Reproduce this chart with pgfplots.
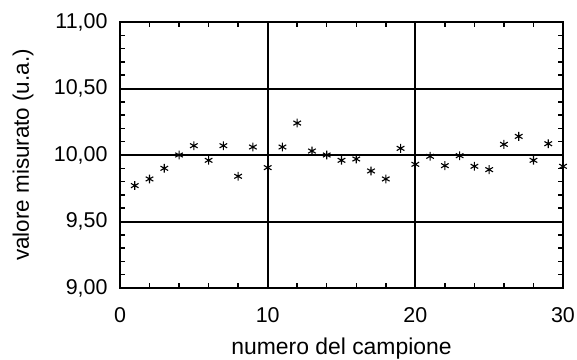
\documentclass[border=0pt]{standalone}
\usepackage{fontspec}
\setmainfont{Liberation Sans}
\usepackage{pgfplots}
\pgfplotsset{compat=1.18}
\begin{document}
\begin{tikzpicture}[font=\fontsize{21.5}{25}\selectfont]
\begin{axis}[
  name=ax,
  scale only axis,
  width=443bp, height=266bp,
  xmin=0, xmax=30, ymin=9, ymax=11,
  xtick={0,10,20,30}, ytick={9,9.5,10,10.5,11},
  minor x tick num=4, minor y tick num=4,
  tick align=inside,
  major tick length=6bp, minor tick length=5bp,
  axis line style={line width=2bp, black},
  every tick/.style={black, line width=1.5bp},
  grid=major,
  major grid style={black, line width=2bp},
  tick label style={font=\fontsize{21.5}{25}\selectfont},
  /pgf/number format/assume math mode=true,
  yticklabel style={/pgf/number format/.cd, fixed, fixed zerofill, precision=2, use comma},
  xticklabel style={/pgf/number format/.cd, fixed, precision=0},
  yticklabel shift=9bp,
  xticklabel shift=16bp,
  xlabel={numero del campione},
  ylabel={valore misurato (u.a.)},
  every axis y label/.style={at={(axis description cs:-0.219,0.5)}, rotate=90, anchor=center, font=\fontsize{22.5}{26}\selectfont},
  every axis x label/.style={at={(axis description cs:0.5,-0.228)}, anchor=center, font=\fontsize{23}{27}\selectfont},
]
\addplot[only marks, mark=asterisk, mark size=4.4bp, black, mark options={line width=1.1bp}] coordinates {
(1,9.77) (2,9.82) (3,9.90) (4,10.00) (5,10.07) (6,9.96) (7,10.07) (8,9.84) (9,10.06) (10,9.905)
(11,10.06) (12,10.24) (13,10.03) (14,10.00) (15,9.96) (16,9.97) (17,9.88) (18,9.82) (19,10.05) (20,9.93)
(21,9.99) (22,9.92) (23,9.995) (24,9.915) (25,9.89) (26,10.08) (27,10.14) (28,9.96) (29,10.085) (30,9.915)
};
\end{axis}
\pgfresetboundingbox
\path ([shift={(-120bp,-72bp)}]ax.south west) rectangle ([shift={(14bp,22bp)}]ax.north east);
\end{tikzpicture}
\end{document}
